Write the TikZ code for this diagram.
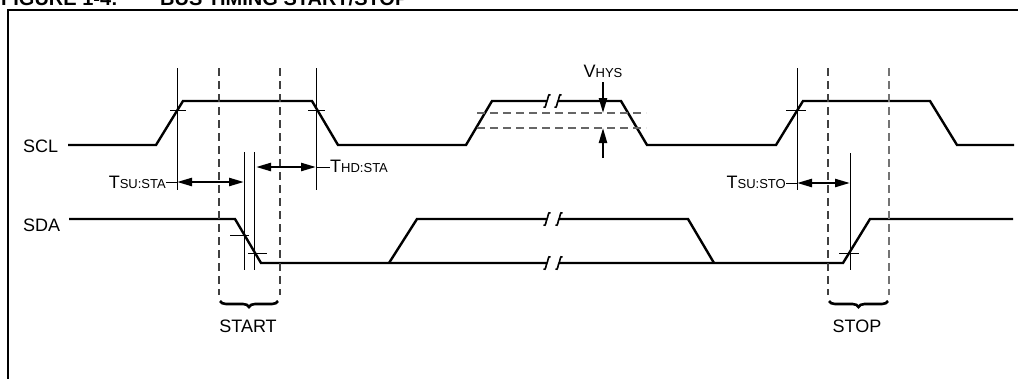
\documentclass[tikz,border=0pt]{standalone}
\usepackage{fontspec}
\setmainfont{Liberation Sans}
\usetikzlibrary{arrows.meta,decorations.pathreplacing}
\tikzset{
  sig/.style={line width=2.4pt,line join=miter},
  thin/.style={line width=1pt},
  dsh/.style={line width=1.2pt,dash pattern=on 8pt off 5pt,draw=black!75},
  dim/.style={line width=2.4pt,{Triangle[length=15pt,width=8pt]}-{Triangle[length=15pt,width=8pt]}},
  onearrow/.style={line width=2.2pt,-{Triangle[length=15pt,width=8pt]}},
  lbl/.style={inner sep=0pt,font=\fontsize{18}{18}\selectfont},
  brk/.style={line width=1.6pt},
  brc/.style={line width=2.6pt,decorate,decoration={brace,amplitude=6pt,aspect=0.5}}
}
\newcommand{\bigT}[2]{{\fontsize{18}{18}\selectfont #1}{\fontsize{13}{13}\selectfont #2}}
\newcommand{\brkmark}[2]{\draw[brk] (#1-3.5,#2+6) .. controls (#1-1,#2+8) and (#1-1.2,#2+2) .. (#1,#2) .. controls (#1+1.2,#2-2) and (#1+1,#2-8) .. (#1+3.5,#2-6);}
\begin{document}
\begin{tikzpicture}[x=1pt,y=-1pt]
\useasboundingbox (0,0) rectangle (1018,378);
\fill[white] (0,0) rectangle (1018,378);
% title (cut off at the top, as in the reference)
\node[inner sep=0pt,anchor=base west,font=\fontsize{20}{20}\selectfont\bfseries] (ttl1) at (1,5.5) {FIGURE 1-4:};
\node[inner sep=0pt,anchor=base west,font=\fontsize{20}{20}\selectfont\bfseries] (ttl2) at (160,5.5) {BUS TIMING START/STOP};
% frame
\draw[line width=2pt] (7.5,400) -- (7.5,10) -- (1030,10);
% labels
\node[lbl,anchor=base west] (scl) at (23,152) {SCL};
\node[lbl,anchor=base west] (sda) at (23,231) {SDA};
\node[lbl,anchor=base] (start) at (248,332) {START};
\node[lbl,anchor=base] (stop) at (857,332) {STOP};
\node[inner sep=0pt,anchor=base east] (tsusta) at (166,188) {\bigT{T}{SU:STA}};
\node[inner sep=0pt,anchor=base west] (thdsta) at (330,172) {\bigT{T}{HD:STA}};
\node[inner sep=0pt,anchor=base east] (tsusto) at (786,188) {\bigT{T}{SU:STO}};
\node[inner sep=0pt,anchor=base] (vhys) at (603,77) {\bigT{V}{HYS}};
% SCL waveform
\draw[sig] (68,145) -- (156,145) -- (183,101) -- (312,101) -- (338,145) -- (466,145) -- (492,101) -- (547,101);
\draw[sig] (558,101) -- (621,101) -- (647,145) -- (776,145) -- (803,101) -- (930,101) -- (957,145) -- (1014,145);
\brkmark{547}{101}\brkmark{558}{101}
% SDA waveform
\draw[sig] (69,219) -- (235,219) -- (261,263) -- (547,263);
\draw[sig] (559,263) -- (843,263) -- (870,219) -- (1013,219);
\draw[sig] (389,263) -- (417,219) -- (547,219);
\draw[sig] (559,219) -- (688,219) -- (714,263);
\brkmark{547}{219}\brkmark{559}{219}
\brkmark{547}{263}\brkmark{559}{263}
% thin vertical lines
\draw[thin] (177,68) -- (177,190);
\draw[thin] (316,68) -- (316,190);
\draw[thin] (244,152) -- (244,270);
\draw[thin] (254,152) -- (254,270);
\draw[thin] (797,68) -- (797,190);
\draw[thin] (850,153) -- (850,270);
% dashed vertical lines
\draw[dsh] (219,68) -- (219,295);
\draw[dsh] (280,68) -- (280,295);
\draw[dsh] (828,68) -- (828,295);
\draw[dsh,draw=black!55] (889,68) -- (889,295);
% ticks
\draw[thin] (170,110) -- (186,110);
\draw[thin] (308,110) -- (325,110);
\draw[thin] (786,110) -- (806,110);
\draw[thin] (230,235) -- (249,235);
\draw[thin] (248,253) -- (267,253);
\draw[thin] (839,253) -- (859,253);
% hysteresis dashed lines
\draw[dsh,draw=black!60] (477,113) -- (646,113);
\draw[dsh,draw=black!60] (477,128) -- (646,128);
% dimension arrows
\coordinate (a1) at (177,182); \coordinate (a2) at (244,182);
\draw[thin] (tsusta.east|-a1) -- (a1);
\draw[dim] (a1) -- (a2);
\coordinate (b1) at (256,167); \coordinate (b2) at (316,167);
\draw[dim] (b1) -- (b2);
\draw[thin] (b2) -- (thdsta.west|-b2);
\coordinate (c1) at (797,183); \coordinate (c2) at (850,183);
\draw[thin] (tsusto.east|-c1) -- (c1);
\draw[dim] (c1) -- (c2);
\coordinate (h1) at (603,82); \coordinate (h2) at (603,113);
\coordinate (h3) at (603,158); \coordinate (h4) at (603,128);
\draw[onearrow] (h1) -- (h2);
\draw[onearrow] (h3) -- (h4);
% braces
\draw[brc] (278,301) -- (220,301);
\draw[brc] (888,301) -- (829,301);
\end{tikzpicture}
\end{document}
